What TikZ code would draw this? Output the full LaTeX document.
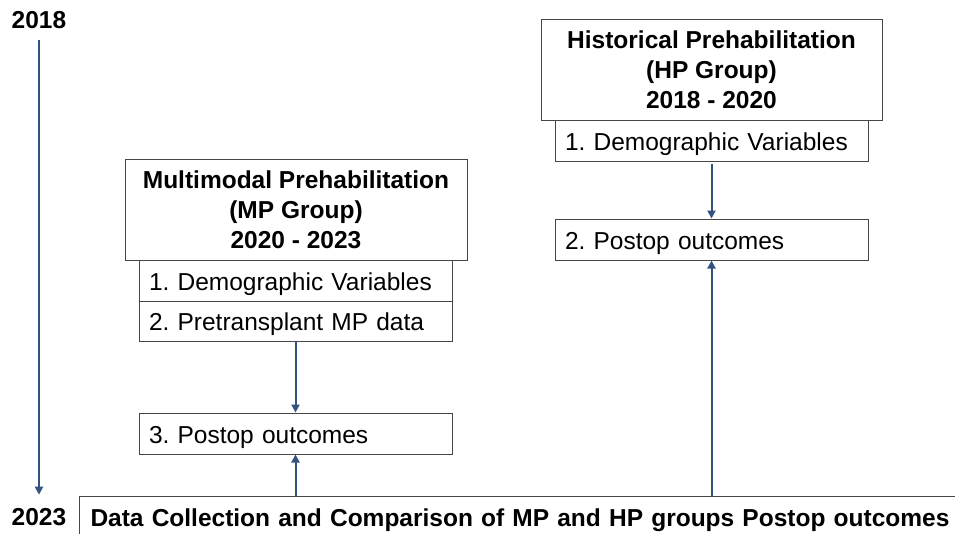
\documentclass[tikz,border=0pt]{standalone}
\usepackage{fontspec}
\setmainfont{Liberation Sans}
\usetikzlibrary{arrows.meta}
\frenchspacing
\definecolor{flowblue}{RGB}{52,82,128}
\definecolor{boxline}{RGB}{70,70,70}
\tikzset{
  box/.style={draw=boxline, line width=1pt, inner sep=0pt, fill=white},
  headbox/.style={box, align=center, font=\fontsize{24.5}{30}\selectfont\bfseries},
  itembox/.style={box, minimum height=41pt, text width=293pt, align=left,
    text height=19.5pt, text depth=0pt,
    inner xsep=10pt, font=\fontsize{24.5}{30}\selectfont},
  yearlabel/.style={inner sep=0pt, anchor=base, font=\fontsize{24.5}{30}\selectfont\bfseries},
  flow/.style={draw=flowblue, line width=2pt, -{Triangle[length=8pt,width=8pt]}}
}
\begin{document}
\begin{tikzpicture}[x=1pt,y=-1pt]
  \clip (0,0) rectangle (955,533);
  \fill[white] (0,0) rectangle (955,533);

  % timeline
  \node[yearlabel] (y2018) at (39,28) {2018};
  \node[yearlabel] (y2023) at (39,525) {2023};
  \draw[flow, shorten <=12pt, shorten >=13pt] (y2018.south) -- (y2023.north);

  % summary box along the bottom edge
  \node[box, anchor=north west, minimum width=900pt, inner xsep=11pt, inner ysep=12pt,
        text height=17.5pt, text depth=20pt, text width=878pt, align=left,
        font=\fontsize{24.5}{30}\selectfont\bfseries] (collect) at (79,496)
        {Data Collection and Comparison of MP and HP groups Postop outcomes};

  % multimodal prehabilitation group
  \node[itembox] (mp1) at (295.5,280.5) {1. Demographic Variables};
  \node[itembox, minimum height=40pt] (mp2) at (295.5,321) {2. Pretransplant MP data};
  \node[itembox] (mp3) at (295.5,433.5) {3. Postop outcomes};
  \node[headbox, minimum width=342pt, minimum height=101pt] (mphead) at (296,209.5)
        {Multimodal Prehabilitation\\(MP Group)\\2020 - 2023};

  % historical prehabilitation group
  \node[itembox] (hp1) at (711.5,140.5) {1. Demographic Variables};
  \node[itembox] (hp2) at (711.5,239.5) {2. Postop outcomes};
  \node[headbox, minimum width=341pt, minimum height=101pt] (hphead) at (711.5,69.5)
        {Historical Prehabilitation\\(HP Group)\\2018 - 2020};

  % connectors
  \draw[flow] (mp2.south) -- (mp3.north);
  \draw[flow] (mp3.south |- collect.north) -- (mp3.south);
  \draw[flow, shorten <=2pt] (hp1.south) -- (hp2.north);
  \draw[flow] (hp2.south |- collect.north) -- (hp2.south);
\end{tikzpicture}
\end{document}
